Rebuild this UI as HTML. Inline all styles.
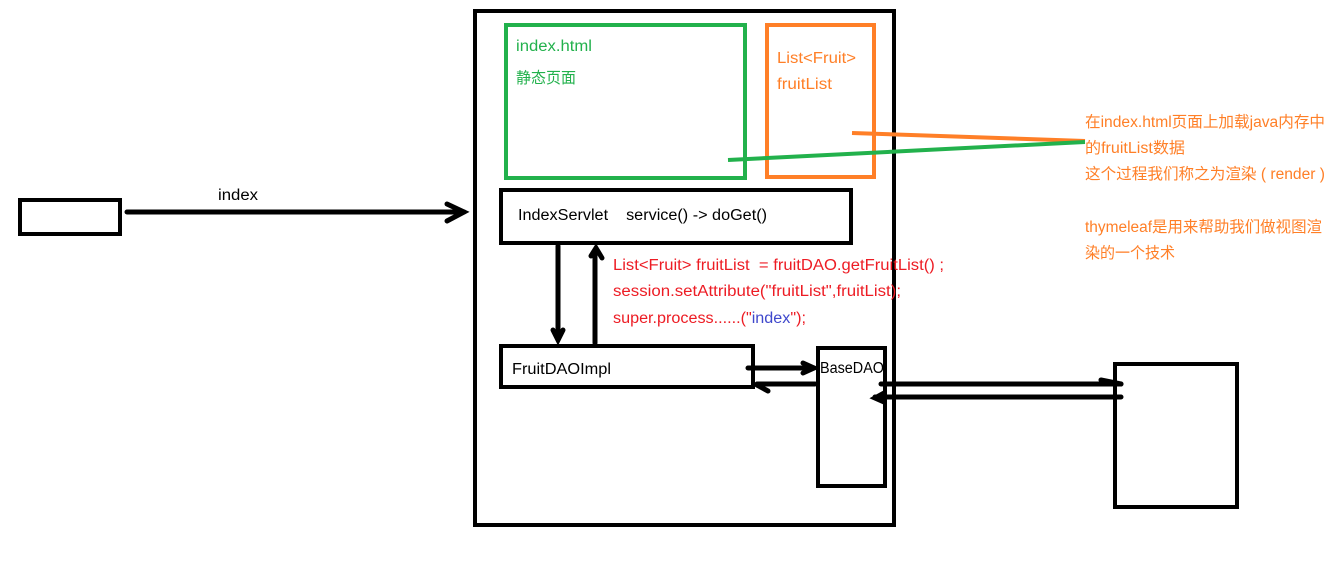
<!DOCTYPE html>
<html><head><meta charset="utf-8"><style>
html,body{margin:0;padding:0;background:#fff;}
svg{display:block;}
text{font-family:"Liberation Sans","Noto Sans CJK SC",sans-serif;font-size:15.5px;white-space:pre;}
</style></head><body>
<svg width="1337" height="563" viewBox="0 0 1337 563">
<g fill="none" stroke="#000" stroke-width="4">
<rect x="20" y="200" width="100" height="34"/>
<rect x="475" y="11" width="419" height="514"/>
<rect x="501" y="190" width="350" height="53"/>
<rect x="501" y="346" width="252" height="41"/>
<rect x="818" y="348" width="67" height="138"/>
<rect x="1115" y="364" width="122" height="143"/>
</g>
<g stroke="#000" stroke-width="5" fill="none" stroke-linecap="round">
<line x1="127" y1="212" x2="464" y2="212"/>
<polyline points="447,204 464,212 447,221"/>
<line x1="558" y1="246" x2="558" y2="338"/>
<polyline points="553,330 558,340 563,330"/>
<line x1="595" y1="343" x2="595" y2="250"/>
<polyline points="591,256 596,248 602,258"/>
<line x1="748" y1="368" x2="814" y2="368"/>
<polyline points="803,363 814,368 803,373"/>
<line x1="815" y1="384" x2="757" y2="384"/>
<polyline points="768,391 757,385"/>
<line x1="881" y1="384" x2="1121" y2="384"/>
<polyline points="1101,380 1121,384"/>
<line x1="1121" y1="397" x2="875" y2="397"/>
<polyline points="884,393 875,398 884,402"/>
</g>
<rect x="506" y="25" width="239" height="153" fill="none" stroke="#22b14c" stroke-width="4"/>
<rect x="767" y="25" width="107" height="152" fill="none" stroke="#ff7f27" stroke-width="4"/>
<line x1="852" y1="133" x2="1085" y2="141" stroke="#ff7f27" stroke-width="4"/>
<line x1="728" y1="160" x2="1085" y2="142" stroke="#22b14c" stroke-width="4"/>
<text x="218" y="200" textLength="40" lengthAdjust="spacingAndGlyphs">index</text>
<text x="516" y="51" fill="#22b14c" textLength="76" lengthAdjust="spacingAndGlyphs">index.html</text>
<text x="516" y="83" fill="#22b14c" textLength="60" lengthAdjust="spacingAndGlyphs">静态页面</text>
<text x="777" y="63" fill="#ff7f27" textLength="79" lengthAdjust="spacingAndGlyphs">List&lt;Fruit&gt;</text>
<text x="777" y="89" fill="#ff7f27" textLength="55" lengthAdjust="spacingAndGlyphs">fruitList</text>
<text x="518" y="220" textLength="249" lengthAdjust="spacingAndGlyphs">IndexServlet    service() -&gt; doGet()</text>
<text x="512" y="374" textLength="99" lengthAdjust="spacingAndGlyphs">FruitDAOImpl</text>
<text x="820" y="373" textLength="64" lengthAdjust="spacingAndGlyphs">BaseDAO</text>
<g fill="#ed1c24">
<text x="613" y="270" textLength="331" lengthAdjust="spacingAndGlyphs">List&lt;Fruit&gt; fruitList  = fruitDAO.getFruitList() ;</text>
<text x="613" y="296" textLength="288" lengthAdjust="spacingAndGlyphs">session.setAttribute("fruitList",fruitList);</text>
<text x="613" y="323" textLength="193" lengthAdjust="spacingAndGlyphs">super.process......("<tspan fill="#3f48cc">index</tspan>");</text>
</g>
<g fill="#ff7f27">
<text x="1085" y="127" textLength="240" lengthAdjust="spacingAndGlyphs">在index.html页面上加载java内存中</text>
<text x="1085" y="153" textLength="100" lengthAdjust="spacingAndGlyphs">的fruitList数据</text>
<text x="1085" y="179" textLength="240" lengthAdjust="spacingAndGlyphs">这个过程我们称之为渲染 ( render )</text>
<text x="1085" y="232" textLength="237" lengthAdjust="spacingAndGlyphs">thymeleaf是用来帮助我们做视图渲</text>
<text x="1085" y="258" textLength="90" lengthAdjust="spacingAndGlyphs">染的一个技术</text>
</g>
</svg>
</body></html>
